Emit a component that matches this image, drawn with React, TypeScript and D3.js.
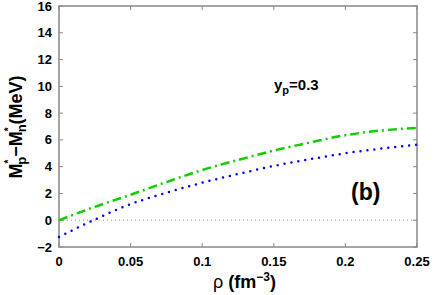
import React, { useEffect, useRef } from 'react'
import * as d3 from 'd3'

// density grid (fm^-3)
const rho = [0, 0.025, 0.05, 0.075, 0.1, 0.125, 0.15, 0.175, 0.2, 0.225, 0.25]
// M*p - M*n (MeV)
const dashDotSeries = [0, 1.0, 1.9, 2.85, 3.75, 4.5, 5.2, 5.8, 6.35, 6.7, 6.9]
const dottedSeries = [-1.25, 0.05, 1.2, 2.05, 2.8, 3.45, 4.05, 4.55, 5.0, 5.35, 5.65]
const xTicks = [0, 0.05, 0.1, 0.15, 0.2, 0.25]
const yTicks = [-2, 0, 2, 4, 6, 8, 10, 12, 14, 16]

export default function App() {
  const ref = useRef<SVGSVGElement>(null)

  useEffect(() => {
    const width = 436
    const height = 295
    const margin = { top: 6, right: 19, bottom: 48, left: 59 }

    const svg = d3.select(ref.current)
    svg.selectAll('*').remove()

    const x = d3.scaleLinear().domain([0, 0.25]).range([margin.left, width - margin.right])
    const y = d3.scaleLinear().domain([-2, 16]).range([height - margin.bottom, margin.top])

    const font = 'Liberation Sans, Arial, Helvetica, sans-serif'
    const axisColor = '#888'

    // frame
    svg.append('rect')
      .attr('x', x(0)).attr('y', y(16))
      .attr('width', x(0.25) - x(0)).attr('height', y(-2) - y(16))
      .attr('fill', 'none').attr('stroke', axisColor).attr('stroke-width', 1.5)

    // inward ticks on all four sides
    const tk = 4
    xTicks.forEach(t => {
      svg.append('line').attr('x1', x(t)).attr('x2', x(t)).attr('y1', y(-2)).attr('y2', y(-2) - tk)
        .attr('stroke', axisColor)
      svg.append('line').attr('x1', x(t)).attr('x2', x(t)).attr('y1', y(16)).attr('y2', y(16) + tk)
        .attr('stroke', axisColor)
      svg.append('text').attr('x', x(t)).attr('y', y(-2) + 18.5)
        .attr('text-anchor', 'middle').attr('font-family', font).attr('font-weight', 'bold')
        .attr('font-size', 13).text(d3.format('')(t))
    })
    yTicks.forEach(t => {
      svg.append('line').attr('x1', x(0)).attr('x2', x(0) + tk).attr('y1', y(t)).attr('y2', y(t))
        .attr('stroke', axisColor)
      svg.append('line').attr('x1', x(0.25)).attr('x2', x(0.25) - tk).attr('y1', y(t)).attr('y2', y(t))
        .attr('stroke', axisColor)
      svg.append('text').attr('x', x(0) - 7).attr('y', y(t) + 4.5)
        .attr('text-anchor', 'end').attr('font-family', font).attr('font-weight', 'bold')
        .attr('font-size', 13).text(t < 0 ? '\u2212' + Math.abs(t) : String(t))
    })

    // zero line
    svg.append('line')
      .attr('x1', x(0)).attr('x2', x(0.25)).attr('y1', y(0)).attr('y2', y(0))
      .attr('stroke', '#999').attr('stroke-width', 1).attr('stroke-dasharray', '1,3')

    const line = d3.line<number>()
      .x((d, i) => x(rho[i]))
      .y(d => y(d))
      .curve(d3.curveMonotoneX)

    svg.append('path').datum(dashDotSeries)
      .attr('d', line)
      .attr('fill', 'none').attr('stroke', '#11cc00').attr('stroke-width', 2.5)
      .attr('stroke-dasharray', '9,4,2,4')

    svg.append('path').datum(dottedSeries)
      .attr('d', line)
      .attr('fill', 'none').attr('stroke', '#0000ff').attr('stroke-width', 2.5)
      .attr('stroke-linecap', 'round').attr('stroke-dasharray', '0,7')

    // annotations
    const yp = svg.append('text').attr('x', 274).attr('y', 90)
      .attr('font-family', font).attr('font-weight', 'bold').attr('font-size', 15)
    yp.append('tspan').text('y')
    yp.append('tspan').attr('font-size', 11).attr('dy', 4).text('p')
    yp.append('tspan').attr('dy', -4).text('=0.3')

    svg.append('text').attr('x', 351).attr('y', 200)
      .attr('font-family', font).attr('font-weight', 'bold').attr('font-size', 23).text('(b)')

    // x label
    const xl = svg.append('text').attr('x', 213).attr('y', 288)
      .attr('font-family', font).attr('font-weight', 'bold').attr('font-size', 18)
    xl.append('tspan').attr('font-weight', 'normal').text('\u03c1')
    xl.append('tspan').text(' (fm')
    xl.append('tspan').attr('font-size', 12).attr('dy', -7).text('\u22123')
    xl.append('tspan').attr('dy', 7).text(')')

    // y label
    const yl = svg.append('text')
      .attr('transform', `translate(22,127) rotate(-90)`)
      .attr('text-anchor', 'middle').attr('font-family', font).attr('font-weight', 'bold').attr('font-size', 18)
    yl.append('tspan').text('M')
    yl.append('tspan').attr('font-size', 10).attr('dy', -10).text('*')
    yl.append('tspan').attr('font-size', 13).attr('dx', -5).attr('dy', 14).text('p')
    yl.append('tspan').attr('dy', -4).text('\u2212M')
    yl.append('tspan').attr('font-size', 10).attr('dy', -10).text('*')
    yl.append('tspan').attr('font-size', 13).attr('dx', -5).attr('dy', 14).text('n')
    yl.append('tspan').attr('dy', -4).text('(MeV)')
  }, [])

  return (
    <svg ref={ref} width={436} height={295} style={{ position: 'absolute', left: 0, top: 0, background: '#fff' }} />
  )
}
